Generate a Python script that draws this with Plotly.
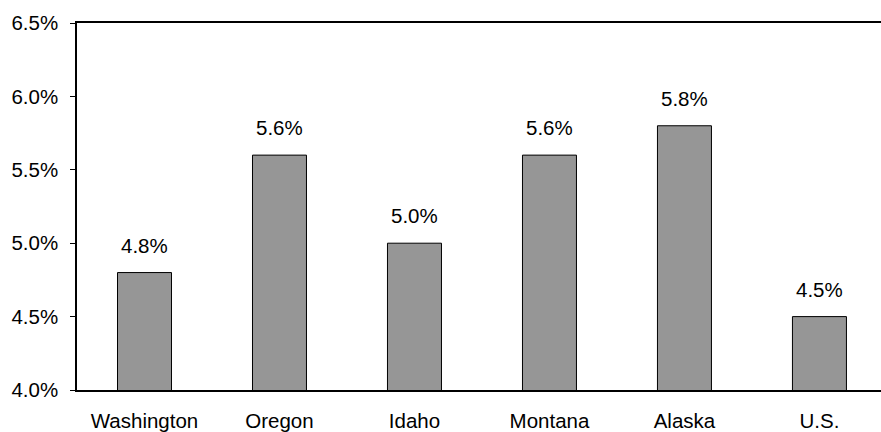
import plotly.graph_objects as go

# Unemployment rate by state vs. the nation
states = ["Washington", "Oregon", "Idaho", "Montana", "Alaska", "U.S."]
rates = [4.8, 5.6, 5.0, 5.6, 5.8, 4.5]
y_ticks = [4.0, 4.5, 5.0, 5.5, 6.0, 6.5]
y_tick_text = ["4.0%", "4.5%", "5.0%", "5.5%", "6.0%", "6.5%"]

font_family = "Liberation Sans, Arial, sans-serif"
font_size = 20.5

fig = go.Figure()
fig.add_trace(go.Bar(
    x=states,
    y=rates,
    base=0,
    width=0.4,
    marker=dict(color="#969696", line=dict(color="#000000", width=1)),
    hoverinfo="x+y",
))

# Value labels above each bar
for s, r in zip(states, rates):
    fig.add_annotation(
        x=s, y=r, text=f"{r:.1f}%", showarrow=False,
        yanchor="bottom", yshift=14,
        font=dict(family=font_family, size=font_size, color="#000000"),
    )

fig.update_layout(
    width=881, height=432,
    margin=dict(l=77, r=0, t=23, b=40),
    paper_bgcolor="white", plot_bgcolor="white",
    showlegend=False,
    font=dict(family=font_family, size=font_size, color="#000000"),
)
fig.update_xaxes(
    type="category",
    range=[-0.5, 5.456],
    showline=True, linecolor="#000000", linewidth=1.5,
    mirror=True,
    ticks="", showgrid=False,
    ticklabelstandoff=12,
    tickfont=dict(family=font_family, size=font_size, color="#000000"),
)
fig.update_yaxes(
    range=[4.0, 6.5],
    tickvals=y_ticks, ticktext=y_tick_text,
    showline=True, linecolor="#000000", linewidth=1.5,
    ticks="outside", ticklen=5, tickcolor="#000000", tickwidth=1,
    showgrid=False, zeroline=False,
    ticklabelstandoff=8,
    tickfont=dict(family=font_family, size=font_size, color="#000000"),
)

fig.write_html("out.html")
